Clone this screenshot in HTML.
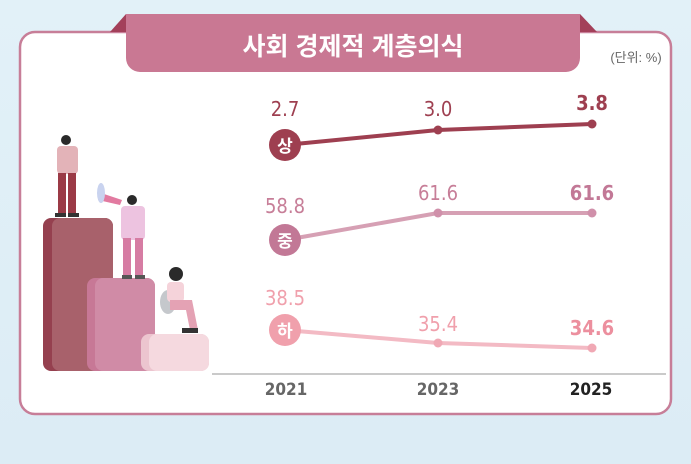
<!DOCTYPE html>
<html><head><meta charset="utf-8"><style>
body{margin:0;width:691px;height:464px;overflow:hidden;background:linear-gradient(180deg,#e2f1f8,#dcecf5);font-family:"Liberation Sans","Noto Sans CJK KR",sans-serif;}
.n{font-family:"Liberation Sans Narrow","DejaVu Sans Condensed","Liberation Sans",sans-serif;}
</style></head><body>
<svg width="691" height="464" xmlns="http://www.w3.org/2000/svg" style="position:absolute;left:0;top:0">
<rect x="20" y="32" width="651" height="382" rx="15" fill="#fff" stroke="#c77e98" stroke-width="2.5"/>
<polygon points="110,32 126,14 126,32" fill="#a3405a"/>
<polygon points="597,32 580,14 580,32" fill="#a3405a"/>
<rect x="126" y="14" width="454" height="58" rx="14" fill="#c97893"/>
<rect x="126" y="14" width="454" height="20" fill="#c97893"/>
<text x="353" y="55" text-anchor="middle" font-size="25" font-weight="bold" fill="#fff">사회 경제적 계층의식</text>
<text x="636" y="62" text-anchor="middle" font-size="13" fill="#666">(단위: %)</text>
<rect x="43" y="218" width="70" height="153" rx="8" fill="#95404f"/>
<rect x="52" y="218" width="61" height="153" rx="8" fill="#a8616b"/>
<rect x="87" y="278" width="68" height="93" rx="8" fill="#c77896"/>
<rect x="95" y="278" width="60" height="93" rx="8" fill="#d08ba6"/>
<rect x="141" y="334" width="68" height="37" rx="8" fill="#ecc5cf"/>
<rect x="149" y="334" width="60" height="37" rx="8" fill="#f5d9df"/>
<circle cx="66" cy="140" r="5" fill="#2a2a2a"/>
<rect x="57" y="146" width="21" height="28" rx="4" fill="#e3b3b8"/>
<rect x="58" y="173" width="8" height="42" fill="#9b3a46"/><rect x="68" y="173" width="8" height="42" fill="#9b3a46"/>
<rect x="55" y="213" width="11" height="4" fill="#333"/><rect x="68" y="213" width="11" height="4" fill="#333"/>
<polygon points="98,192 122,200 120,205 98,200" fill="#e27aa0"/>
<ellipse cx="101" cy="193" rx="4" ry="10" fill="#c9d3ef"/>
<circle cx="132" cy="200" r="5" fill="#2a2a2a"/>
<rect x="121" y="206" width="24" height="34" rx="4" fill="#edc3e0"/>
<rect x="123" y="238" width="8" height="38" fill="#d67ca3"/><rect x="135" y="238" width="8" height="38" fill="#d67ca3"/>
<rect x="122" y="275" width="10" height="4" fill="#555"/><rect x="135" y="275" width="10" height="4" fill="#555"/>
<ellipse cx="168" cy="302" rx="8" ry="12" fill="#c5c8cc"/>
<circle cx="176" cy="274" r="7" fill="#2a2a2a"/>
<rect x="167" y="282" width="17" height="20" rx="4" fill="#f5d3da"/>
<polygon points="170,300 192,300 198,330 190,330 186,310 170,310" fill="#e4a2b4"/>
<rect x="182" y="328" width="16" height="5" fill="#333"/>
<line x1="212" y1="374" x2="666" y2="374" stroke="#aaa" stroke-width="1.2"/>
<g class="n" font-size="17" font-weight="bold" text-anchor="middle" fill="#666"><text x="286" y="395">2021</text><text x="438" y="395">2023</text><text x="591" y="395" fill="#222">2025</text></g>
<polyline points="285,145 438,130 592,124" fill="none" stroke="#9e3f50" stroke-width="4"/>
<circle cx="438" cy="130" r="4.5" fill="#9e3f50"/><circle cx="592" cy="124" r="4.5" fill="#9e3f50"/>
<circle cx="285" cy="145" r="16" fill="#9e3f50"/>
<text x="285" y="152" text-anchor="middle" font-size="17" font-weight="bold" fill="#fff">상</text>
<polyline points="285,240 438,213 592,213" fill="none" stroke="#d6a0b4" stroke-width="4"/>
<circle cx="438" cy="213" r="4.5" fill="#d090aa"/><circle cx="592" cy="213" r="4.5" fill="#d090aa"/>
<circle cx="285" cy="240" r="16" fill="#c27896"/>
<text x="285" y="247" text-anchor="middle" font-size="17" font-weight="bold" fill="#fff">중</text>
<polyline points="285,330 438,343 592,348" fill="none" stroke="#f3bac4" stroke-width="4"/>
<circle cx="438" cy="343" r="4.5" fill="#f0a8b4"/><circle cx="592" cy="348" r="4.5" fill="#f0a8b4"/>
<circle cx="285" cy="330" r="16" fill="#f0a0ac"/>
<text x="285" y="337" text-anchor="middle" font-size="17" font-weight="bold" fill="#fff">하</text>
<g class="n" font-size="20" text-anchor="middle">
<text x="285" y="116" fill="#9e3f50">2.7</text><text x="438" y="116" fill="#9e3f50">3.0</text><text x="592" y="110" fill="#9e3f50" font-weight="bold">3.8</text>
<text x="285" y="213" fill="#c77e98">58.8</text><text x="438" y="200" fill="#c77e98">61.6</text><text x="592" y="200" fill="#c27896" font-weight="bold">61.6</text>
<text x="285" y="305" fill="#f0a0ac">38.5</text><text x="438" y="331" fill="#f0a0ac">35.4</text><text x="592" y="335" fill="#ec8f9e" font-weight="bold">34.6</text>
</g>
</svg>
</body></html>
